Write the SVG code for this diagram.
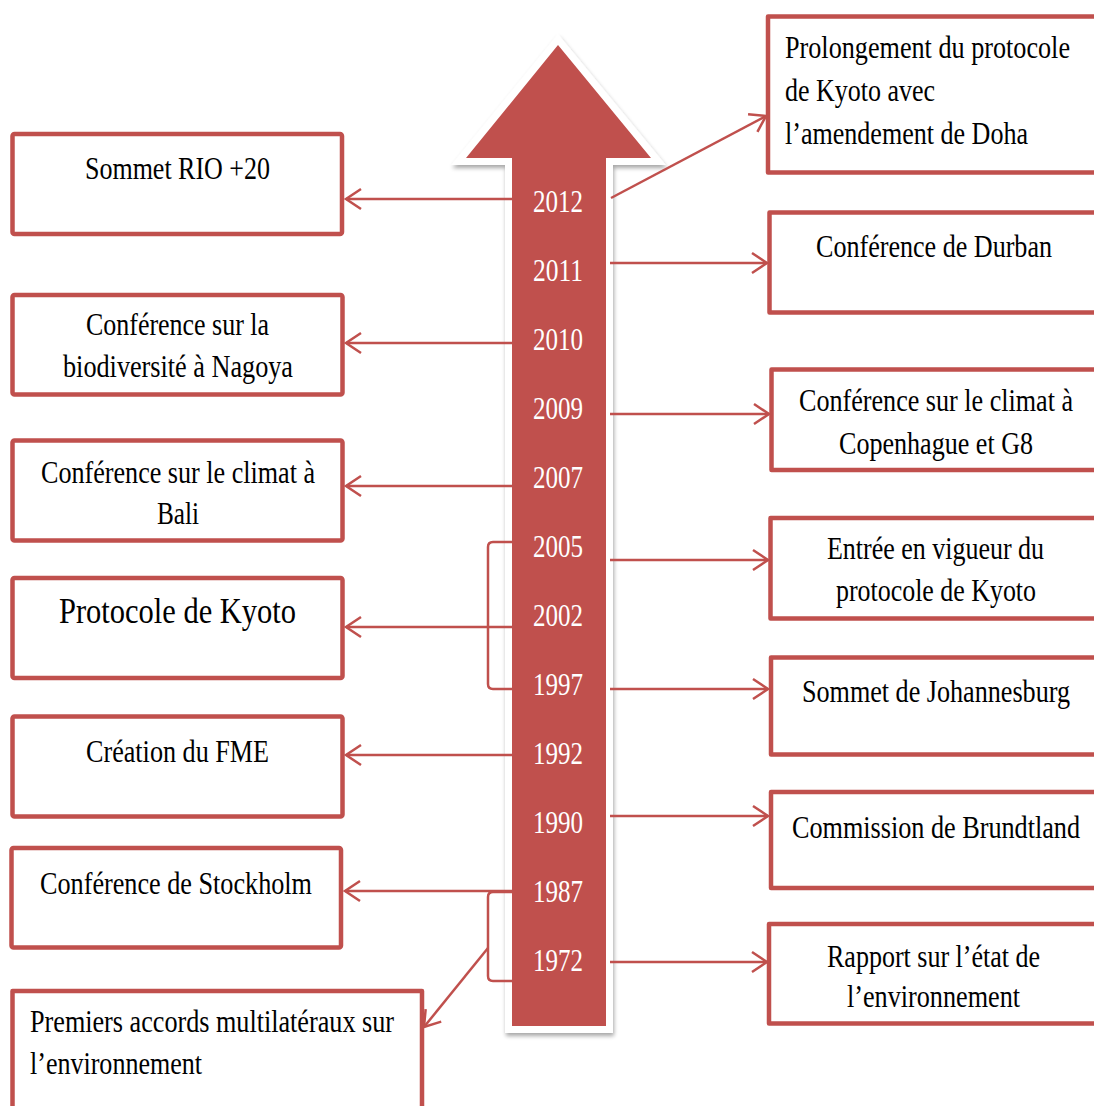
<svg xmlns="http://www.w3.org/2000/svg" width="1094" height="1106" viewBox="0 0 1094 1106">
<style>
.box{fill:#fff;stroke:#C0504D;stroke-width:4.5;stroke-linejoin:round}
.t{font-family:"Liberation Serif","Times New Roman",serif;font-size:26px;fill:#000}
.y{font-family:"Liberation Serif","Times New Roman",serif;font-size:25px;fill:#fff}
.c{fill:none;stroke:#C0504D;stroke-width:2.5}
</style>
<defs>
<marker id="ah" markerUnits="userSpaceOnUse" markerWidth="30" markerHeight="30" refX="0" refY="0" orient="auto" style="overflow:visible">
<path d="M-15,-10 L0,0 L-15,10" fill="none" stroke="#C0504D" stroke-width="2.5"/>
</marker>
<filter id="sh" x="-20%" y="-5%" width="140%" height="110%">
<feGaussianBlur in="SourceAlpha" stdDeviation="2"/>
<feOffset dx="1" dy="3" result="b"/>
<feComponentTransfer><feFuncA type="linear" slope="0.35"/></feComponentTransfer>
<feMerge><feMergeNode/><feMergeNode in="SourceGraphic"/></feMerge>
</filter>
</defs>

<g id="timeline-arrow">
<polygon points="558,45 651,158 606,158 606,1026 512,1026 512,158 466,158" fill="#fff" stroke="#fff" stroke-width="14" stroke-linejoin="miter" filter="url(#sh)"/>
<polygon points="558,45 651,158 606,158 606,1026 512,1026 512,158 466,158" fill="#C0504D"/>
<text class="y" transform="translate(533,212) scale(1,1.28)" textLength="50" lengthAdjust="spacingAndGlyphs">2012</text>
<text class="y" transform="translate(533,281) scale(1,1.28)" textLength="50" lengthAdjust="spacingAndGlyphs">2011</text>
<text class="y" transform="translate(533,350) scale(1,1.28)" textLength="50" lengthAdjust="spacingAndGlyphs">2010</text>
<text class="y" transform="translate(533,419) scale(1,1.28)" textLength="50" lengthAdjust="spacingAndGlyphs">2009</text>
<text class="y" transform="translate(533,488) scale(1,1.28)" textLength="50" lengthAdjust="spacingAndGlyphs">2007</text>
<text class="y" transform="translate(533,557) scale(1,1.28)" textLength="50" lengthAdjust="spacingAndGlyphs">2005</text>
<text class="y" transform="translate(533,626) scale(1,1.28)" textLength="50" lengthAdjust="spacingAndGlyphs">2002</text>
<text class="y" transform="translate(533,695) scale(1,1.28)" textLength="50" lengthAdjust="spacingAndGlyphs">1997</text>
<text class="y" transform="translate(533,764) scale(1,1.28)" textLength="50" lengthAdjust="spacingAndGlyphs">1992</text>
<text class="y" transform="translate(533,833) scale(1,1.28)" textLength="50" lengthAdjust="spacingAndGlyphs">1990</text>
<text class="y" transform="translate(533,902) scale(1,1.28)" textLength="50" lengthAdjust="spacingAndGlyphs">1987</text>
<text class="y" transform="translate(533,971) scale(1,1.28)" textLength="50" lengthAdjust="spacingAndGlyphs">1972</text>
</g>

<g id="connectors">
<line class="c" x1="512" y1="199" x2="346" y2="199" marker-end="url(#ah)"/>
<line class="c" x1="512" y1="343" x2="346" y2="343" marker-end="url(#ah)"/>
<line class="c" x1="512" y1="486" x2="346" y2="486" marker-end="url(#ah)"/>
<line class="c" x1="512" y1="627" x2="346" y2="627" marker-end="url(#ah)"/>
<line class="c" x1="512" y1="755" x2="346" y2="755" marker-end="url(#ah)"/>
<line class="c" x1="512" y1="891" x2="345" y2="891" marker-end="url(#ah)"/>
<line class="c" x1="611" y1="198" x2="766" y2="116" marker-end="url(#ah)"/>
<line class="c" x1="610" y1="263" x2="767" y2="263" marker-end="url(#ah)"/>
<line class="c" x1="610" y1="414" x2="769" y2="414" marker-end="url(#ah)"/>
<line class="c" x1="610" y1="560" x2="768" y2="560" marker-end="url(#ah)"/>
<line class="c" x1="610" y1="689" x2="768" y2="689" marker-end="url(#ah)"/>
<line class="c" x1="610" y1="816" x2="768" y2="816" marker-end="url(#ah)"/>
<line class="c" x1="610" y1="962" x2="767" y2="962" marker-end="url(#ah)"/>
<path class="c" d="M512,542 L493,542 Q488,542 488,547 L488,684 Q488,689 493,689 L512,689"/>
<path class="c" d="M512,892 L493,892 Q488,892 488,897 L488,976 Q488,981 493,981 L512,981"/>
<line class="c" x1="488" y1="948" x2="424" y2="1027" marker-end="url(#ah)"/>
</g>

<g id="node-rio20">
<rect class="box" x="12.5" y="134" width="329.5" height="100" rx="2"/>
<text class="t" transform="translate(85,179) scale(1,1.23)" textLength="185" lengthAdjust="spacingAndGlyphs">Sommet RIO +20</text>
</g>
<g id="node-nagoya">
<rect class="box" x="12.5" y="295" width="330" height="99.5" rx="2"/>
<text class="t" transform="translate(86,335) scale(1,1.23)" textLength="183" lengthAdjust="spacingAndGlyphs">Conférence sur la</text>
<text class="t" transform="translate(63,377) scale(1,1.23)" textLength="230" lengthAdjust="spacingAndGlyphs">biodiversité à Nagoya</text>
</g>
<g id="node-bali">
<rect class="box" x="12.5" y="440.5" width="330" height="100" rx="2"/>
<text class="t" transform="translate(41,483) scale(1,1.23)" textLength="274" lengthAdjust="spacingAndGlyphs">Conférence sur le climat à</text>
<text class="t" transform="translate(157,524) scale(1,1.23)" textLength="42" lengthAdjust="spacingAndGlyphs">Bali</text>
</g>
<g id="node-kyoto">
<rect class="box" x="12.5" y="578" width="330" height="100" rx="2"/>
<text class="t" transform="translate(59,623) scale(1,1.15)" style="font-size:30.5px" textLength="237" lengthAdjust="spacingAndGlyphs">Protocole de Kyoto</text>
</g>
<g id="node-fme">
<rect class="box" x="12.5" y="716.5" width="330" height="100" rx="2"/>
<text class="t" transform="translate(86,762) scale(1,1.23)" textLength="183" lengthAdjust="spacingAndGlyphs">Création du FME</text>
</g>
<g id="node-stockholm">
<rect class="box" x="11.5" y="848" width="329.5" height="99.5" rx="2"/>
<text class="t" transform="translate(40,894) scale(1,1.23)" textLength="272" lengthAdjust="spacingAndGlyphs">Conférence de Stockholm</text>
</g>
<g id="node-premiers-accords">
<path class="box" d="M12.5,1106 V991 H422 V1106"/>
<text class="t" transform="translate(30,1032) scale(1,1.23)" textLength="364" lengthAdjust="spacingAndGlyphs">Premiers accords multilatéraux sur</text>
<text class="t" transform="translate(30,1074) scale(1,1.23)" textLength="172" lengthAdjust="spacingAndGlyphs">l’environnement</text>
</g>

<g id="node-doha">
<path class="box" d="M1094,16.5 H768 V172.5 H1094"/>
<text class="t" transform="translate(785,58) scale(1,1.23)" textLength="285" lengthAdjust="spacingAndGlyphs">Prolongement du protocole</text>
<text class="t" transform="translate(785,101) scale(1,1.23)" textLength="150" lengthAdjust="spacingAndGlyphs">de Kyoto avec</text>
<text class="t" transform="translate(785,144) scale(1,1.23)" textLength="243" lengthAdjust="spacingAndGlyphs">l’amendement de Doha</text>
</g>
<g id="node-durban">
<path class="box" d="M1094,212.5 H769.5 V312.5 H1094"/>
<text class="t" transform="translate(816,257) scale(1,1.23)" textLength="236" lengthAdjust="spacingAndGlyphs">Conférence de Durban</text>
</g>
<g id="node-copenhague">
<path class="box" d="M1094,369.5 H771.5 V470 H1094"/>
<text class="t" transform="translate(799,411) scale(1,1.23)" textLength="274" lengthAdjust="spacingAndGlyphs">Conférence sur le climat à</text>
<text class="t" transform="translate(839,454) scale(1,1.23)" textLength="194" lengthAdjust="spacingAndGlyphs">Copenhague et G8</text>
</g>
<g id="node-entree-vigueur">
<path class="box" d="M1094,518 H770.5 V618.5 H1094"/>
<text class="t" transform="translate(827,559) scale(1,1.23)" textLength="217" lengthAdjust="spacingAndGlyphs">Entrée en vigueur du</text>
<text class="t" transform="translate(836,601) scale(1,1.23)" textLength="200" lengthAdjust="spacingAndGlyphs">protocole de Kyoto</text>
</g>
<g id="node-johannesburg">
<path class="box" d="M1094,657.5 H771 V754.5 H1094"/>
<text class="t" transform="translate(802,702) scale(1,1.23)" textLength="268" lengthAdjust="spacingAndGlyphs">Sommet de Johannesburg</text>
</g>
<g id="node-brundtland">
<path class="box" d="M1094,792 H771 V888 H1094"/>
<text class="t" transform="translate(792,838) scale(1,1.23)" textLength="288" lengthAdjust="spacingAndGlyphs">Commission de Brundtland</text>
</g>
<g id="node-rapport">
<path class="box" d="M1094,924 H769 V1023.5 H1094"/>
<text class="t" transform="translate(827,967) scale(1,1.23)" textLength="213" lengthAdjust="spacingAndGlyphs">Rapport sur l’état de</text>
<text class="t" transform="translate(847,1007) scale(1,1.23)" textLength="173" lengthAdjust="spacingAndGlyphs">l’environnement</text>
</g>
</svg>
